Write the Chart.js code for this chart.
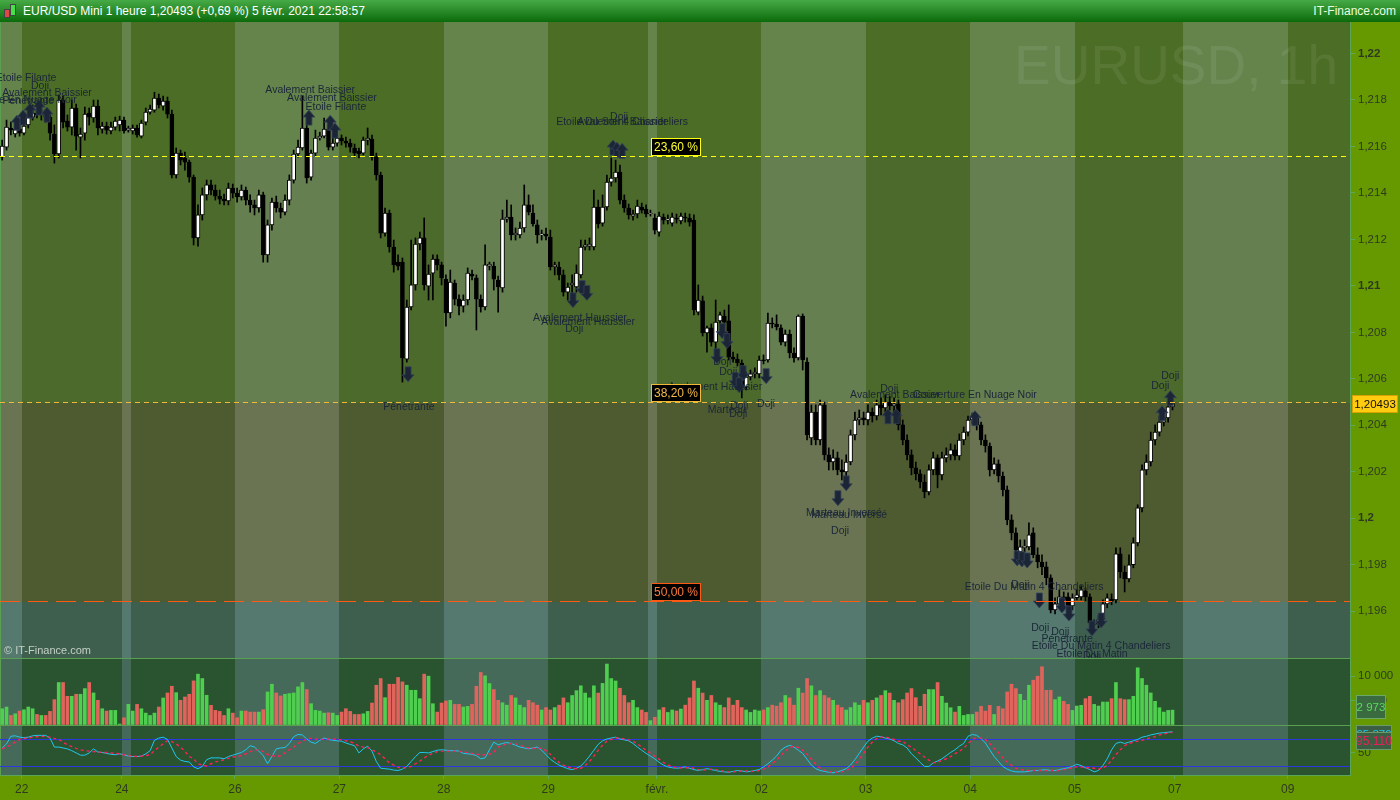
<!DOCTYPE html>
<html lang="fr">
<head>
<meta charset="utf-8">
<title>EUR/USD Mini 1 heure</title>
<script src="https://cdn.jsdelivr.net/npm/chart.js@4.4.1/dist/chart.umd.min.js"></script>
<style>
  html, body { margin: 0; padding: 0; }
  body { width: 1400px; height: 800px; overflow: hidden; background: #669900; position: relative; font-family: "Liberation Sans", Arial, sans-serif; }
  #entete { position: absolute; left: 0; top: 0; width: 1400px; height: 22px; background: linear-gradient(#46aa46, #0b6b0b); color: #fff; font-size: 12px; }
  #entete .titre { position: absolute; left: 23px; top: 4px; }
  #entete .site { position: absolute; right: 4px; top: 4px; color: #e8ffe0; }
  .ico { position: absolute; border: 1px solid #444; }
  canvas { position: absolute; left: 0; }
</style>
</head>
<body>
<div id="entete">
  <div class="ico" style="left:4px;top:9px;width:4px;height:7px;background:#e04848"></div>
  <div class="ico" style="left:10px;top:4px;width:4px;height:10px;background:#48e048"></div>
  <span class="titre">EUR/USD Mini 1 heure 1,20493 (+0,69 %) 5 févr. 2021 22:58:57</span>
  <span class="site">IT-Finance.com</span>
</div>
<canvas id="cPrix" width="1400" height="636" style="top:22px"></canvas>
<canvas id="cVol" width="1400" height="67" style="top:658px"></canvas>
<canvas id="cOsc" width="1400" height="75" style="top:725px"></canvas>
<script>
// bougies horaires, en points (0,00001) au-dessus de 1,19000
const ouv = [
  2554,2597,2679,2653,2674,2657,2692,2726,2743,2735,2739,2726,2653,2567,2799,2709,2683,2765,2640,2657,
  2743,2722,2773,2674,2687,2666,2683,2692,2713,2670,2666,2679,2644,2704,2747,2756,2808,2773,2795,2739,
  2477,2571,2550,2532,2468,2206,2305,2391,2434,2412,2386,2373,2365,2421,2399,2382,2412,2369,2348,2335,
  2391,2133,2262,2360,2335,2317,2369,2455,2567,2593,2679,2468,2571,2636,2644,2674,2597,2614,2636,2623,
  2614,2593,2580,2571,2627,2631,2554,2477,2227,2313,2167,2102,2102,1685,1909,2004,2180,2206,1999,2055,
  2115,2090,2029,1883,2012,1943,1913,1939,2051,2034,1943,1909,2085,2085,2025,1991,2287,2296,2219,2219,
  2249,2348,2313,2262,2219,2223,2210,2081,2081,2047,1973,2004,1995,2047,2167,2171,2167,2339,2270,2339,
  2446,2464,2489,2369,2335,2300,2309,2339,2330,2309,2292,2231,2296,2283,2270,2292,2279,2296,2292,2283,
  1887,1935,1797,1819,1758,1849,1870,1849,1694,1685,1668,1565,1608,1621,1621,1681,1681,1840,1836,1819,
  1758,1793,1711,1690,1870,1672,1346,1457,1337,1488,1273,1242,1260,1208,1199,1242,1359,1423,1432,1423,
  1457,1440,1488,1475,1500,1483,1492,1402,1337,1273,1217,1191,1156,1113,1208,1260,1187,1260,1273,1294,
  1268,1337,1371,1423,1436,1402,1337,1311,1208,1234,1182,1122,993,937,855,873,877,937,843,812,
  791,744,606,632,662,662,623,658,662,688,662,542,546,567,632,653,649,847,769,739,
  800,894,1045,1208,1242,1337,1371,1414,1432,1479
];
const haut = [
  2627,2713,2704,2692,2713,2722,2756,2778,2765,2756,2756,2747,2692,2821,2816,2735,2799,2782,2679,2769,
  2765,2799,2799,2704,2704,2704,2726,2730,2726,2687,2692,2692,2713,2765,2778,2833,2825,2816,2812,2756,
  2593,2584,2575,2541,2477,2348,2421,2455,2455,2434,2412,2395,2442,2438,2421,2434,2425,2391,2369,2412,
  2403,2283,2378,2386,2356,2391,2477,2584,2627,2816,2696,2584,2670,2661,2722,2687,2636,2661,2649,2640,
  2631,2610,2593,2640,2679,2649,2571,2489,2335,2326,2197,2133,2120,1939,2197,2206,2231,2292,2090,2133,
  2133,2102,2047,2068,2025,1961,1961,2077,2068,2047,1961,2176,2102,2102,2042,2326,2369,2348,2249,2274,
  2434,2391,2348,2283,2240,2249,2240,2102,2102,2068,2012,2047,2090,2197,2197,2206,2412,2369,2391,2477,
  2550,2541,2520,2391,2352,2326,2369,2356,2348,2326,2309,2317,2309,2305,2313,2309,2313,2313,2309,2305,
  2004,1956,1827,1836,1939,1887,1896,1918,1715,1707,1681,1629,1638,1647,1698,1703,1883,1862,1875,1832,
  1810,1810,1733,1875,1879,1690,1488,1488,1509,1500,1303,1294,1285,1251,1273,1380,1457,1466,1457,1488,
  1475,1509,1518,1531,1526,1518,1509,1423,1359,1294,1242,1208,1187,1230,1285,1273,1285,1303,1320,1316,
  1363,1393,1440,1453,1449,1414,1359,1324,1260,1251,1199,1139,1015,959,907,907,980,959,873,843,
  812,757,658,692,683,679,675,692,709,701,675,563,580,649,675,675,873,873,795,843,
  916,1058,1230,1273,1371,1402,1440,1457,1496,1518
];
const bas = [
  2541,2584,2649,2640,2644,2649,2679,2713,2722,2713,2704,2627,2528,2550,2679,2666,2649,2584,2550,2627,
  2692,2704,2649,2657,2653,2653,2670,2666,2657,2661,2653,2640,2636,2692,2739,2747,2765,2756,2722,2464,
  2464,2520,2498,2446,2176,2171,2283,2369,2391,2369,2352,2348,2348,2378,2360,2369,2348,2317,2305,2317,
  2102,2102,2240,2317,2292,2305,2348,2442,2554,2584,2442,2455,2558,2627,2636,2584,2584,2601,2606,2597,
  2575,2554,2550,2563,2606,2541,2455,2206,2214,2145,2059,2068,1586,1672,1896,1982,2154,1982,1939,1939,
  2068,2004,1827,1862,1918,1875,1887,1918,2025,1810,1887,1896,2068,1982,1887,1973,2274,2197,2197,2206,
  2231,2305,2257,2184,2197,2197,2068,2047,2025,1956,1939,1948,1973,2034,2154,2154,2154,2249,2257,2326,
  2429,2446,2352,2317,2287,2283,2292,2313,2296,2300,2223,2214,2266,2266,2257,2270,2266,2274,2257,1875,
  1875,1784,1715,1741,1703,1836,1827,1681,1672,1655,1518,1552,1595,1604,1604,1664,1672,1819,1810,1746,
  1741,1690,1672,1681,1638,1337,1316,1316,1316,1251,1208,1208,1187,1165,1174,1230,1337,1402,1402,1402,
  1414,1423,1445,1457,1466,1457,1380,1316,1251,1187,1165,1131,1088,1101,1187,1131,1165,1242,1251,1251,
  1251,1316,1354,1406,1380,1316,1285,1182,1191,1156,1096,972,907,834,838,855,864,830,787,757,
  714,593,589,623,632,606,606,649,649,645,529,520,529,554,615,628,636,744,683,726,
  787,881,1027,1187,1225,1316,1354,1397,1414,1466
];
const clo = [
  2601,2683,2670,2674,2657,2687,2726,2743,2735,2739,2726,2657,2567,2799,2704,2683,2765,2644,2653,2739,
  2726,2773,2679,2687,2670,2683,2709,2713,2666,2679,2679,2649,2700,2747,2760,2808,2778,2795,2739,2477,
  2571,2541,2532,2468,2206,2305,2391,2434,2412,2386,2373,2365,2421,2399,2382,2412,2369,2348,2335,2391,
  2133,2262,2360,2335,2317,2369,2455,2567,2597,2679,2464,2571,2636,2644,2674,2597,2614,2636,2623,2614,
  2597,2571,2567,2627,2636,2554,2477,2227,2313,2167,2090,2085,1690,1909,2004,2180,2206,2004,2051,2115,
  2090,2034,1883,2016,1943,1913,1939,2055,2042,1943,1909,2090,2094,2029,1995,2287,2296,2219,2227,2249,
  2348,2317,2266,2219,2223,2214,2081,2090,2047,1973,1995,2012,2055,2167,2176,2180,2339,2266,2339,2446,
  2464,2489,2369,2335,2305,2309,2343,2326,2309,2313,2240,2300,2283,2287,2296,2287,2300,2292,2274,1896,
  1939,1797,1819,1758,1844,1875,1844,1694,1685,1668,1569,1608,1621,1629,1681,1677,1840,1836,1823,1758,
  1793,1711,1690,1870,1681,1359,1457,1337,1488,1273,1242,1260,1208,1199,1242,1359,1423,1432,1423,1457,
  1440,1488,1475,1500,1483,1492,1402,1337,1273,1217,1191,1156,1113,1208,1260,1187,1260,1273,1294,1268,
  1337,1371,1423,1436,1402,1337,1311,1208,1234,1182,1122,993,937,864,877,881,929,843,812,791,
  744,606,632,662,649,623,658,671,692,662,550,550,563,632,658,645,847,769,739,800,
  894,1045,1208,1242,1337,1371,1414,1432,1479,1493
];
const volumes = [
  3260,3610,1870,2220,2780,3050,3610,3260,2080,1870,1870,2710,5140,8680,8680,5830,5830,6250,6250,7430,
  8680,6520,5000,3260,2780,2920,2920,100,1390,4160,2780,4160,3260,2360,1870,2360,3610,5480,6520,7910,
  6590,5000,5690,6250,9020,10410,9510,6040,3960,2920,2710,1870,3260,2360,1390,2780,2780,2570,2570,2570,
  3050,6730,8330,6520,5900,6250,6390,6520,7780,8680,7220,4300,2920,2780,2360,2430,2360,1870,2570,3260,
  2710,2080,2080,2220,2710,4440,8120,9510,5550,8330,8330,9720,8810,8120,7080,7080,5340,10410,9990,4300,
  2570,4440,4860,5000,4160,4160,3610,3750,4160,7910,10760,10060,8470,7220,5000,4500,4000,6000,5500,4000,
  3500,5000,4500,4000,3000,3500,3000,3500,4000,5500,4500,6000,7000,8000,6500,5500,8000,6500,8500,12500,
  9500,9000,7500,6000,4500,5000,3500,3000,2500,800,1500,3000,3500,2500,3000,2800,3200,4000,5500,9000,
  7500,6500,5000,6000,4500,4000,3500,5500,4000,5000,3500,3000,2500,3000,2800,3000,3500,4000,3800,4500,
  6000,5500,4000,7500,6500,9500,8000,6000,7000,6000,5500,5000,4000,3500,3000,3500,4500,4000,5000,4500,
  5000,5500,6000,7000,6500,5000,4500,5140,6520,7430,5550,3750,6250,7220,7220,8680,5830,4440,3470,2570,
  3750,1870,2080,2080,2570,3750,2780,3960,2080,3750,3260,6730,8330,7430,6250,5000,8120,9160,9990,11940,
  7080,7080,5140,5690,4790,4160,2920,3820,3960,5340,5830,4160,3820,4650,4650,5340,8680,5340,5140,5140,
  5830,11730,9510,8120,6520,4790,3470,2570,2920,2973
];
// stochastique : %K (bleu clair) et %D (rouge pointillé)
const stoK = [
  60,69,86,87,84,83,84,87,88,88,88,82,62,62,60,58,54,49,44,44,49,58,51,50,48,46,45,47,45,42,
  41,41,42,47,54,77,82,84,79,60,41,33,30,29,18,14,19,34,38,38,38,36,41,44,47,50,56,65,62,53,
  43,25,41,58,60,61,70,85,90,89,80,73,70,77,82,79,77,76,75,71,68,65,49,58,64,53,30,15,14,13,
  11,10,13,19,30,41,50,50,49,52,55,56,55,54,54,53,48,47,46,43,36,38,56,73,
  67,70,72,70,66,62,60,58,60,62,55,45,35,28,22,18,14,12,15,20,30,42,55,68,76,80,82,84,80,78,76,70,62,55,48,42,36,
  28,22,18,16,15,16,18,15,12,10,12,14,12,10,8,7,6,8,10,9,7,8,10,12,18,25,33,42,55,62,66,62,55,48,35,22,14,10,
  8,6,5,7,10,14,22,34,48,62,75,82,86,85,82,80,76,70,
  67,60,47,38,28,19,19,27,31,36,43,50,56,64,70,86,90,88,81,71,56,41,30,19,13,9,7,7,7,8,
  10,10,11,12,10,10,12,14,16,19,24,21,16,12,7,10,21,36,56,70,73,70,73,76,79,84,86,89,91,93,94,95,96
];
const stoD = [
  58,62,67,73,79,81,82,84,85,86,85,84,81,79,73,67,63,59,56,54,53,52,51,50,50,49,48,47,45,43,
  42,41,42,43,45,54,62,69,76,74,69,62,53,41,36,25,22,20,25,29,31,34,37,40,41,43,47,52,55,56,
  52,46,43,41,43,49,56,62,70,75,80,81,80,79,79,80,80,79,78,76,74,70,64,62,61,56,51,45,36,27,
  22,17,16,16,19,25,31,38,44,48,52,53,53,53,53,53,51,50,48,46,45,45,46,51,
  62,66,69,70,69,66,63,60,59,60,59,54,46,36,28,22,18,15,14,15,21,30,42,55,66,75,79,82,82,80,78,75,69,62,55,48,42,
  35,28,22,19,16,16,16,16,15,12,11,12,13,12,10,8,7,7,8,9,9,8,8,10,13,18,25,33,43,53,61,64,61,55,46,35,24,15,
  11,8,6,6,7,10,15,23,35,48,62,73,81,84,84,82,79,75,
  75,67,62,54,47,40,33,27,28,33,36,41,47,53,59,70,79,83,82,79,70,59,50,38,29,21,15,12,11,10,
  10,10,10,10,10,10,10,12,14,16,18,18,16,16,15,13,16,21,33,45,56,65,70,73,75,77,80,83,85,89,91,93,95.11
];

// axe du temps : une unité = une bougie
const joursPos = [5, 28, 54, 78, 102, 126, 151, 175, 199, 223, 247, 270, 296];
const joursLib = ['22', '24', '26', '27', '28', '29', 'févr.', '02', '03', '04', '05', '07', '09'];
const bandesClaires = [[0, 5], [28, 30], [54, 78], [102, 126], [149, 151], [175, 199], [223, 247], [272, 296]];
const xMax = 310.3;

const prixTicks = [1.196, 1.198, 1.2, 1.202, 1.204, 1.206, 1.208, 1.21, 1.212, 1.214, 1.216, 1.218, 1.22];
const volTicks = [5000, 10000];
const oscTicks = [50];

const fibNiveaux = [1.21557, 1.20502, 1.19644];
const fibLib = ['23,60 %', '38,20 %', '50,00 %'];
const dernier = 1.20493;

// figures de chandeliers : [bougie, prix, texte]
const figuresTxt = [
  [6.0, 1.21894, 'Etoile Filante'], [9.2, 1.21859, 'Doji'], [10.8, 1.21829, 'Avalement Baissier'],
  [3.4, 1.21799, 'Couverture En Nuage Noir'], [6.5, 1.21795, 'Pénétrante'],
  [71.3, 1.21842, 'Avalement Baissier'], [76.3, 1.21807, 'Avalement Baissier'], [77.2, 1.21769, 'Etoile Filante'],
  [143.0, 1.21704, 'Etoile Du Soir 4 Chandeliers'], [143.0, 1.21704, 'Avalement Baissier'], [142.3, 1.21725, 'Doji'],
  [94.0, 1.20480, 'Pénétrante'],
  [133.3, 1.20860, 'Avalement Haussier'], [135.2, 1.20843, 'Avalement Haussier'], [132.0, 1.20816, 'Doji'],
  [166.0, 1.20674, 'Doji'], [167.4, 1.20631, 'Doji'], [164.4, 1.20566, 'Avalement Haussier'],
  [167.1, 1.20467, 'Marteau'], [169.9, 1.20484, 'Doji'], [169.7, 1.20450, 'Doji'], [176.1, 1.20493, 'Doji'],
  [205.7, 1.20528, 'Avalement Baissier'], [204.4, 1.20554, 'Doji'], [224.1, 1.20528, 'Couverture En Nuage Noir'],
  [194.0, 1.20024, 'Marteau Inversé'], [195.2, 1.20015, 'Marteau Inversé'], [193.1, 1.19946, 'Doji'],
  [237.7, 1.19705, 'Etoile Du Matin 4 Chandeliers'], [234.5, 1.19714, 'Doji'],
  [239.1, 1.19528, 'Doji'], [243.7, 1.19511, 'Doji'], [245.3, 1.19481, 'Pénétrante'],
  [253.1, 1.19450, 'Etoile Du Matin 4 Chandeliers'], [251.0, 1.19416, 'Etoile Du Matin'], [251.0, 1.19407, 'Doji'],
  [269.0, 1.20610, 'Doji'], [266.7, 1.20567, 'Doji']
];
// flèches : [bougie, prix de la pointe, sens]
const figuresFl = [
  [3.9, 1.21734, -1], [5.3, 1.21756, -1], [6.9, 1.21786, -1], [9.0, 1.21799, -1], [10.8, 1.21769, -1],
  [71.0, 1.21756, -1], [75.9, 1.21734, -1], [77.0, 1.21700, -1],
  [140.9, 1.21627, -1], [141.8, 1.21618, -1], [143.0, 1.21613, -1],
  [204.1, 1.20471, -1], [206.0, 1.20471, -1], [224.1, 1.20463, -1], [267.1, 1.20484, -1], [269.0, 1.20549, -1],
  [93.8, 1.20587, 1], [131.7, 1.20906, 1], [133.8, 1.20958, 1], [134.9, 1.20937, 1],
  [166.0, 1.20773, 1], [167.1, 1.20730, 1], [164.8, 1.20665, 1], [170.8, 1.20592, 1], [169.0, 1.20562, 1],
  [169.9, 1.20540, 1], [176.1, 1.20579, 1], [194.5, 1.20118, 1], [192.6, 1.20054, 1],
  [233.8, 1.19795, 1], [234.9, 1.19791, 1], [236.1, 1.19786, 1], [238.9, 1.19614, 1], [244.1, 1.19593, 1],
  [245.7, 1.19558, 1], [251.0, 1.19494, 1], [253.1, 1.19528, 1]
];

const prix = p => 1.19 + p / 100000;
const hausse = i => clo[i] >= ouv[i];
const corps = ouv.map((o, i) => ({ x: i + 0.5, y: [prix(Math.min(o, clo[i])), prix(Math.max(o, clo[i]))] }));
const meches = bas.map((b, i) => ({ x: i + 0.5, y: [prix(b), prix(haut[i])] }));
const barresVol = volumes.map((v, i) => ({ x: i + 0.5, y: v }));
const ligneK = stoK.map((v, i) => ({ x: i + 0.5, y: v }));
const ligneD = stoD.map((v, i) => ({ x: i + 0.5, y: v }));

const POLICE = '"Liberation Sans", Arial, sans-serif';
const texteAxe = '#2e3a20';

function axeX(visible) {
  return {
    type: 'linear', min: 0, max: xMax, offset: false, display: visible,
    afterBuildTicks: s => { s.ticks = joursPos.map(v => ({ value: v })); },
    afterFit: s => { s.height = visible ? 25 : 0; s.paddingLeft = 0; s.paddingRight = 0; },
    ticks: { autoSkip: false, maxRotation: 0, color: texteAxe, padding: 3, font: { size: 12, family: POLICE }, callback: (v, i) => joursLib[i] },
    grid: { drawOnChartArea: false, color: '#5aaa5a', tickLength: 4 },
    border: { color: '#5aa55a' }
  };
}
function axeY(min, max, ticks, fmt, gras) {
  return {
    position: 'right', min, max,
    afterFit: s => { s.width = 50; s.paddingTop = 0; s.paddingBottom = 0; },
    afterBuildTicks: s => { s.ticks = ticks.map(v => ({ value: v })); },
    ticks: {
      color: texteAxe, padding: 3, callback: fmt,
      font: c => ({ size: 11.5, family: POLICE, weight: gras && c.tick && gras(c.tick.value) ? 'bold' : 'normal' })
    },
    grid: { drawOnChartArea: false, color: '#5aaa5a', tickLength: 5 },
    border: { color: '#5aa55a' }
  };
}

function peindreFond(chart, niveaux, teintes, trait) {
  const { ctx, chartArea: a, scales: { x, y } } = chart;
  ctx.save();
  ctx.fillStyle = '#669900';
  ctx.fillRect(0, 0, chart.width, chart.height);
  // la zone suivante commence juste sous la ligne du niveau
  const bords = [a.top, ...niveaux.map(v => Math.round(y.getPixelForValue(v)) + 1), a.bottom];
  teintes.forEach((t, k) => {
    const y0 = bords[k], y1 = bords[k + 1];
    ctx.fillStyle = t[0];
    ctx.fillRect(a.left, y0, a.right - a.left, y1 - y0);
    ctx.fillStyle = t[1];
    bandesClaires.forEach(([d, f]) => {
      const x0 = Math.round(Math.max(a.left, x.getPixelForValue(d)));
      const x1 = Math.round(Math.min(a.right, x.getPixelForValue(f)));
      ctx.fillRect(x0, y0, x1 - x0, y1 - y0);
    });
  });
  ctx.strokeStyle = '#5aa050';
  ctx.lineWidth = 1;
  ctx.beginPath();
  ctx.moveTo(0.5, a.top); ctx.lineTo(0.5, a.bottom);
  if (trait) { ctx.moveTo(a.left, a.top + 0.5); ctx.lineTo(a.right, a.top + 0.5); }
  ctx.stroke();
  ctx.restore();
}

function boite(ctx, x0, y0, w, h, fond, bord, couleur, txt, taille) {
  ctx.fillStyle = fond;
  ctx.fillRect(x0, y0, w, h);
  ctx.strokeStyle = bord;
  ctx.lineWidth = 1;
  ctx.strokeRect(x0 + 0.5, y0 + 0.5, w - 1, h - 1);
  ctx.fillStyle = couleur;
  ctx.font = taille + 'px ' + POLICE;
  ctx.textAlign = 'center';
  ctx.textBaseline = 'middle';
  ctx.fillText(txt, x0 + w / 2, y0 + h / 2 + 1);
}

function fleche(ctx, px, py, sens) {
  const s = -sens; // -1 : pointe en bas
  ctx.beginPath();
  ctx.moveTo(px, py);
  ctx.lineTo(px + 6, py + s * 7);
  ctx.lineTo(px + 3, py + s * 7);
  ctx.lineTo(px + 3, py + s * 15);
  ctx.lineTo(px - 3, py + s * 15);
  ctx.lineTo(px - 3, py + s * 7);
  ctx.lineTo(px - 6, py + s * 7);
  ctx.closePath();
  ctx.fill();
  ctx.stroke();
}

const pluginPrix = {
  id: 'decorPrix',
  beforeDraw(chart) {
    peindreFond(chart, fibNiveaux, [
      ['#4b6d25', '#64844c'], ['#4c6a2b', '#657f50'], ['#4e5b31', '#6a7453'], ['#3e5f4e', '#56796f']
    ], false);
  },
  beforeDatasetsDraw(chart) {
    const { ctx, chartArea: a } = chart;
    ctx.save();
    ctx.fillStyle = 'rgba(255,255,255,0.075)';
    ctx.font = '55px ' + POLICE;
    ctx.textAlign = 'right';
    ctx.textBaseline = 'alphabetic';
    ctx.fillText('EURUSD, 1h', a.right - 12, 62);
    ctx.fillStyle = '#c4d0c4';
    ctx.font = '11px ' + POLICE;
    ctx.textAlign = 'left';
    ctx.fillText('© IT-Finance.com', 4, a.bottom - 4);
    ctx.restore();
  },
  afterDatasetsDraw(chart) {
    const { ctx, chartArea: a, scales: { x, y } } = chart;
    ctx.save();
    ctx.fillStyle = '#1c2536';
    ctx.strokeStyle = '#34445a';
    ctx.lineWidth = 0.8;
    figuresFl.forEach(([v, p, s]) => fleche(ctx, x.getPixelForValue(v), y.getPixelForValue(p), s));
    ctx.fillStyle = '#1b2638';
    ctx.font = '10.5px ' + POLICE;
    ctx.textAlign = 'center';
    ctx.textBaseline = 'middle';
    figuresTxt.forEach(([v, p, t]) => ctx.fillText(t, x.getPixelForValue(v), y.getPixelForValue(p)));

    const couleurs = ['#ffff10', '#f2b83a', '#ff5a14'];
    const textes = ['#ffff30', '#f4bc44', '#ff7a3a'];
    const tirets = [[5, 4], [5, 4], [20, 8]];
    fibNiveaux.forEach((v, k) => {
      const py = Math.round(y.getPixelForValue(v)) + 0.5;
      ctx.strokeStyle = couleurs[k];
      ctx.lineWidth = 1;
      ctx.setLineDash(tirets[k]);
      ctx.beginPath();
      ctx.moveTo(a.left, py); ctx.lineTo(a.right, py);
      ctx.stroke();
      ctx.setLineDash([]);
      boite(ctx, Math.round(x.getPixelForValue(149.7)), py - 18.5, 50, 18, '#000', couleurs[k], textes[k], fibLib[k], 12);
    });
    ctx.restore();
  },
  afterDraw(chart) {
    const { ctx, scales: { y } } = chart;
    ctx.save();
    const py = Math.round(y.getPixelForValue(dernier));
    boite(ctx, 1352, py - 9, 46, 18, '#ffcc10', '#d8a000', '#111', '1,20493', 11.5);
    ctx.restore();
  }
};

const pluginVol = {
  id: 'decorVol',
  beforeDraw(chart) { peindreFond(chart, [], [['#2a5430', '#466a5a']], true); },
  afterDraw(chart) {
    const { ctx, scales: { y } } = chart;
    ctx.save();
    const py = Math.round(y.getPixelForValue(volumes[volumes.length - 1]));
    boite(ctx, 1356, py - 15, 30, 24, '#3a6a40', '#6aa86a', '#58dd58', '2 973', 11.5);
    ctx.restore();
  }
};

const pluginOsc = {
  id: 'decorOsc',
  beforeDraw(chart) { peindreFond(chart, [], [['#2a5430', '#466a5a']], true); },
  beforeDatasetsDraw(chart) {
    const { ctx, chartArea: a, scales: { y } } = chart;
    ctx.save();
    ctx.strokeStyle = '#2a3ae0';
    ctx.lineWidth = 1;
    [80, 20].forEach(v => {
      const py = Math.round(y.getPixelForValue(v)) + 0.5;
      ctx.beginPath(); ctx.moveTo(a.left, py); ctx.lineTo(a.right, py); ctx.stroke();
    });
    ctx.restore();
  },
  afterDraw(chart) {
    const { ctx, scales: { y } } = chart;
    ctx.save();
    const pk = Math.round(y.getPixelForValue(stoK[stoK.length - 1]));
    boite(ctx, 1356, pk - 7, 36, 18, '#3c5e42', '#6a9a6a', '#20c8f0', '95,379', 11.5);
    boite(ctx, 1356, pk, 36, 18, '#3c5e42', '#6a9a6a', '#e8205a', '95,110', 12);
    ctx.restore();
  }
};

const base = {
  responsive: false, animation: false, devicePixelRatio: 1,
  layout: { padding: 0 },
  plugins: { legend: { display: false }, tooltip: { enabled: false } }
};

new Chart(document.getElementById('cPrix'), {
  type: 'bar',
  data: {
    datasets: [
      {
        label: 'Bougies', data: corps, grouped: false, barThickness: 4, minBarLength: 1, order: 1,
        backgroundColor: c => hausse(c.dataIndex) ? '#ffffff' : '#000000',
        borderColor: '#000000', borderWidth: 1, borderSkipped: false
      },
      { label: 'Mèches', data: meches, grouped: false, barThickness: 1, order: 2, backgroundColor: '#000000' }
    ]
  },
  options: {
    ...base,
    scales: {
      x: axeX(false),
      y: axeY(1.19399, 1.22135, prixTicks, v => String(+v.toFixed(3)).replace('.', ','), v => Math.abs(v * 100 - Math.round(v * 100)) < 1e-6)
    }
  },
  plugins: [pluginPrix]
});

new Chart(document.getElementById('cVol'), {
  type: 'bar',
  data: {
    datasets: [{
      label: 'Volume', data: barresVol, grouped: false, barThickness: 3,
      backgroundColor: c => hausse(c.dataIndex) ? '#4fce4f' : '#e0645c'
    }]
  },
  options: {
    ...base,
    scales: {
      x: axeX(false),
      y: axeY(-100, 13750, volTicks, v => String(v).replace(/\B(?=(\d{3})+(?!\d))/g, ' '))
    }
  },
  plugins: [pluginVol]
});

new Chart(document.getElementById('cOsc'), {
  type: 'line',
  data: {
    datasets: [
      { label: '%D', data: ligneD, borderColor: '#ff1f5e', borderWidth: 1.4, borderDash: [3, 3], pointRadius: 0, tension: 0 },
      { label: '%K', data: ligneK, borderColor: '#1ec8f2', borderWidth: 1, pointRadius: 0, tension: 0 }
    ]
  },
  options: {
    ...base,
    scales: {
      x: axeX(true),
      y: axeY(0, 111, oscTicks, v => String(v))
    }
  },
  plugins: [pluginOsc]
});
</script>
</body>
</html>
